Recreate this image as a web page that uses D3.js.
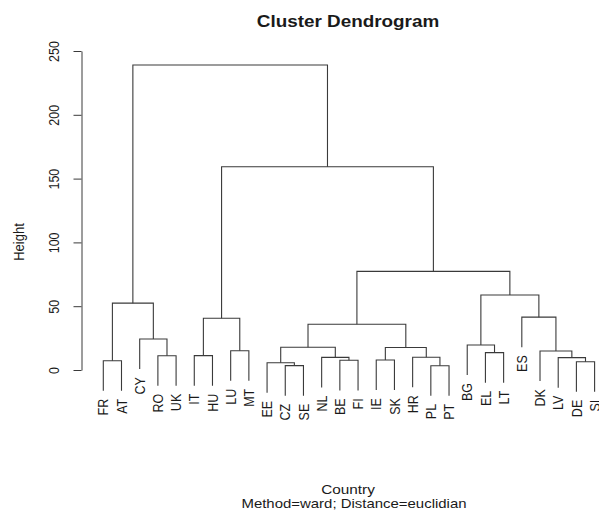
<!DOCTYPE html>
<html>
<head>
<meta charset="utf-8">
<script src="https://cdn.jsdelivr.net/npm/d3@7"></script>
<style>
  body { margin: 0; background: #fff; }
  text { font-family: "Liberation Sans", Arial, sans-serif; fill: #1a1a1a; }
</style>
</head>
<body>
<script>
// Leaf labels, 1-based like R's hclust
const labels = ["FR","AT","CY","RO","UK","IT","HU","LU","MT","EE","CZ","SE","NL","BE","FI",
  "IE","SK","HR","PL","PT","BG","EL","LT","ES","DK","LV","DE","SI"];

// merge matrix: negative = leaf, positive = earlier step
const merges = [
  [-19,-20],[-11,-12],[-10,2],[-27,-28],[-1,-2],[-14,-15],[-16,-17],[-26,4],[-13,6],
  [-18,1],[-4,-5],[-6,-7],[-22,-23],[-25,8],[-8,-9],[7,10],[3,9],[-21,13],[-3,11],
  [17,16],[12,15],[-24,14],[5,19],[18,22],[20,24],[21,25],[23,26]
];
const heights = [3.3,3.4,5.7,6.5,7.3,7.6,7.8,9.7,9.9,10.0,11.2,11.3,13.6,14.9,15.1,
  17.6,17.8,19.6,24.3,35.8,40.5,41.4,52.4,58.8,77.3,159.3,239];

const yTicks = [0, 50, 100, 150, 200, 250];

const width = 599, height = 510;
const sx = 1.18;   // picture is a bit stretched sideways
const hang = 0.1;

// build the tree from the merge matrix
const steps = [];
merges.forEach((m, k) => {
  steps.push({
    h: heights[k],
    children: m.map(c => c < 0 ? { name: labels[-c - 1] } : steps[c - 1])
  });
});
const root = d3.hierarchy(steps[steps.length - 1]);

const x = d3.scalePoint()
  .domain(root.leaves().map(d => d.data.name))
  .range([103.3, 594.6]);

const y = d3.scaleLinear()
  .domain([0, 250])
  .range([370, 51]);

const hangH = hang * (d3.max(heights) - d3.min(heights));

root.eachAfter(d => {
  if (d.children) {
    d.px = (d.children[0].px + d.children[1].px) / 2;
    d.py = y(d.data.h);
  } else {
    d.px = x(d.data.name);
    d.py = y(d.parent.data.h - hangH);
  }
});

const svg = d3.select("body").append("svg")
  .attr("width", width)
  .attr("height", height);

svg.append("rect").attr("width", width).attr("height", height).attr("fill", "#fff");

// branches
svg.append("g")
  .attr("fill", "none")
  .attr("stroke", "#3a3a3a")
  .attr("stroke-width", 1.1)
  .selectAll("path")
  .data(root.descendants().filter(d => d.children))
  .enter().append("path")
  .attr("d", d => {
    const [a, b] = d.children;
    return `M${a.px},${a.py}V${d.py}H${b.px}V${b.py}`;
  });

// leaf labels
svg.append("g")
  .selectAll("text")
  .data(root.leaves())
  .enter().append("text")
  .attr("transform", d => `translate(${d.px},${d.py + 8}) scale(${sx},1) rotate(-90)`)
  .attr("text-anchor", "end")
  .attr("dy", "0.35em")
  .style("font-size", "12.5px")
  .text(d => d.data.name);

// y axis
const axis = svg.append("g")
  .attr("transform", "translate(81.5,0)")
  .call(d3.axisLeft(y).tickValues(yTicks).tickSize(8).tickSizeOuter(0));

axis.attr("font-family", null).attr("font-size", null);
axis.selectAll("path, line").attr("stroke", "#3a3a3a");
axis.selectAll(".tick text")
  .attr("x", 0)
  .attr("dy", "0.35em")
  .attr("transform", `translate(-28,0) scale(${sx},1) rotate(-90)`)
  .attr("text-anchor", "middle")
  .style("font-size", "12.5px");

svg.append("text")
  .attr("transform", `translate(19,242) scale(${sx},1) rotate(-90)`)
  .attr("text-anchor", "middle")
  .attr("dy", "0.35em")
  .style("font-size", "13px")
  .text("Height");

svg.append("text")
  .attr("transform", `translate(348,27) scale(${sx},1)`)
  .attr("text-anchor", "middle")
  .style("font-size", "16px")
  .style("font-weight", "bold")
  .text("Cluster Dendrogram");

svg.append("text")
  .attr("transform", `translate(348,494) scale(${sx},1)`)
  .attr("text-anchor", "middle")
  .style("font-size", "13px")
  .text("Country");

svg.append("text")
  .attr("transform", `translate(354,508) scale(1.15,1)`)
  .attr("text-anchor", "middle")
  .style("font-size", "13px")
  .text("Method=ward; Distance=euclidian");
</script>
</body>
</html>
